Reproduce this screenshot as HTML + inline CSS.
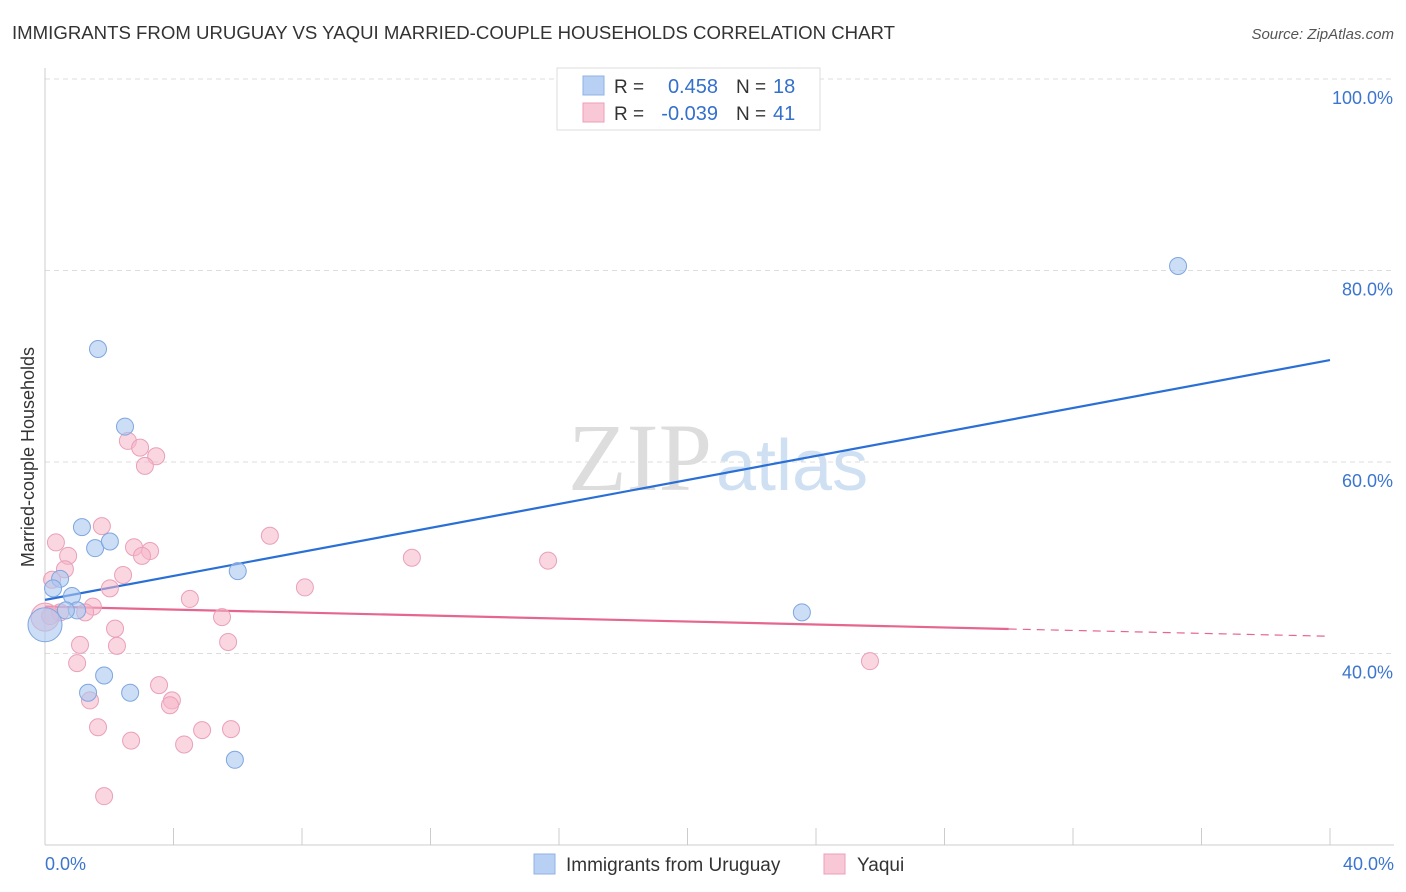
<!DOCTYPE html>
<html><head><meta charset="utf-8"><style>
body{margin:0;background:#fff;font-family:"Liberation Sans",sans-serif;}
svg{display:block}
</style></head><body>
<svg id="chart" width="1406" height="892" xmlns="http://www.w3.org/2000/svg">
<text x="12" y="39" font-size="18" fill="#333" textLength="883" lengthAdjust="spacingAndGlyphs">IMMIGRANTS FROM URUGUAY VS YAQUI MARRIED-COUPLE HOUSEHOLDS CORRELATION CHART</text>
<text x="1394" y="39" font-size="15" fill="#555" font-style="italic" text-anchor="end">Source: ZipAtlas.com</text>
<text x="712" y="490" font-size="96" fill="#ddd" text-anchor="end" font-family="Liberation Serif,serif">ZIP</text>
<text x="716" y="490" font-size="72" fill="#cfe0f3">atlas</text>
<g id="grid"></g>
<g id="axes"></g>
<g id="lines"></g>
<g id="points"></g>
<text transform="translate(34,457) rotate(-90)" font-size="18" fill="#333" text-anchor="middle">Married-couple Households</text>
<g>
<rect x="557" y="68" width="263" height="62" fill="#fff" stroke="#ddd"/>
<rect x="583" y="76" width="21" height="19" fill="#b8d0f3" stroke="#8fb1e3"/>
<rect x="583" y="103" width="21" height="19" fill="#f9c8d6" stroke="#ec9fb6"/>
<text x="614" y="93" font-size="19" fill="#333">R = </text><text x="718" y="93" font-size="20" fill="#3370cc" text-anchor="end">0.458</text>
<text x="736" y="93" font-size="19" fill="#333">N = </text><text x="773" y="93" font-size="20" fill="#3370cc">18</text>
<text x="614" y="120" font-size="19" fill="#333">R = </text><text x="718" y="120" font-size="20" fill="#3370cc" text-anchor="end">-0.039</text>
<text x="736" y="120" font-size="19" fill="#333">N = </text><text x="773" y="120" font-size="20" fill="#3370cc">41</text>
</g>
<g>
<rect x="534" y="854" width="21" height="20" fill="#b8d0f3" stroke="#8fb1e3"/>
<text x="566" y="871" font-size="19" fill="#333">Immigrants from Uruguay</text>
<rect x="824" y="854" width="21" height="20" fill="#f9c8d6" stroke="#ec9fb6"/>
<text x="857" y="871" font-size="19" fill="#333">Yaqui</text>
</g>
</svg>
<script>
const yTicks=[100,80,60,40];
const yTickLabels=["100.0%","80.0%","60.0%","40.0%"];
const xTickLabels=["0.0%","40.0%"];
const blueX=[35.27,1.65,2.49,1.15,1.56,2.02,6.0,0.47,0.25,0.84,1.0,0.65,23.56,0,1.84,1.34,2.65,5.91];
const blueY=[80.47,71.8,63.7,53.2,51.0,51.7,48.6,47.8,46.8,46.0,44.5,44.5,44.3,43.0,37.7,35.9,35.9,28.9];
const pinkX=[2.58,2.96,3.46,3.11,7.0,1.77,0.34,0.72,2.77,3.27,3.02,11.42,15.66,0.62,2.43,0.22,2.02,8.09,4.51,1.49,1.25,0.47,5.51,0.16,2.18,2.24,1.09,5.7,1.0,25.68,3.55,3.95,3.89,1.40,1.65,4.89,5.79,2.68,4.33,1.84,0];
const pinkY=[62.2,61.5,60.6,59.6,52.3,53.3,51.6,50.2,51.1,50.7,50.2,50.0,49.7,48.8,48.2,47.7,46.8,46.9,45.7,44.9,44.3,44.3,43.8,43.9,42.6,40.8,40.9,41.2,39.0,39.2,36.7,35.1,34.6,35.1,32.3,32.0,32.1,30.9,30.5,25.1,43.8];
const blueTrend=[[0,45.6],[40,70.65]];
const pinkTrend=[[0,44.9],[30,42.56],[40,41.8]];
const X=v=>45+v*32.125, Y=v=>79+(100-v)*9.575;
const NS="http://www.w3.org/2000/svg";
function mk(t,a,p){const e=document.createElementNS(NS,t);for(const k in a)e.setAttribute(k,a[k]);document.getElementById(p).appendChild(e);return e;}
yTicks.forEach((t,i)=>{
 const g=mk('line',{x1:45,x2:1394,y1:Y(t),y2:Y(t),stroke:'#ddd','stroke-dasharray':'5,4'},'grid');
 
 
 const l=mk('text',{x:1393,y:Y(t)+25,'font-size':18,fill:'#3b75cf','text-anchor':'end'},'grid');
 l.textContent=yTickLabels[i];
 
 
});
mk('line',{x1:45,x2:45,y1:68,y2:845,stroke:'#ccc'},'axes');
mk('line',{x1:45,x2:1394,y1:845,y2:845,stroke:'#ccc'},'axes');
for(let i=0;i<=10;i++){const t=mk('line',{x1:X(i*4),x2:X(i*4),y1:828,y2:845,stroke:'#ccc'},'axes');
 
 }
[0,40].forEach((v,i)=>{const l=mk('text',{x:i?1394:45,y:870,'font-size':18,fill:'#3b75cf','text-anchor':i?'end':'start'},'axes');
 l.textContent=xTickLabels[i];
 
 });
const bl=mk('line',{x1:X(blueTrend[0][0]),y1:Y(blueTrend[0][1]),x2:X(blueTrend[1][0]),y2:Y(blueTrend[1][1]),stroke:'#2a6fd6','stroke-width':2.2},'lines');


const pl=mk('line',{x1:X(pinkTrend[0][0]),y1:Y(pinkTrend[0][1]),x2:X(pinkTrend[1][0]),y2:Y(pinkTrend[1][1]),stroke:'#e5668f','stroke-width':2.2},'lines');


const pd=mk('line',{x1:X(pinkTrend[1][0]),y1:Y(pinkTrend[1][1]),x2:X(pinkTrend[2][0]),y2:Y(pinkTrend[2][1]),stroke:'#e5668f','stroke-width':1.2,'stroke-dasharray':'8,6'},'lines');


pinkX.forEach((x,i)=>{const r=(i===pinkX.length-1)?14:8.5;const c=mk('circle',{cx:X(x),cy:Y(pinkY[i]),r:r,fill:'rgba(246,180,200,0.55)',stroke:'#eaa0b8','stroke-width':1},'points');
 
 });
blueX.forEach((x,i)=>{const r=(x===0)?17:8.5;const c=mk('circle',{cx:X(x),cy:Y(blueY[i]),r:r,fill:'rgba(170,198,240,0.6)',stroke:'#7ea6e0','stroke-width':1},'points');
 
 });
</script>
</body></html>
